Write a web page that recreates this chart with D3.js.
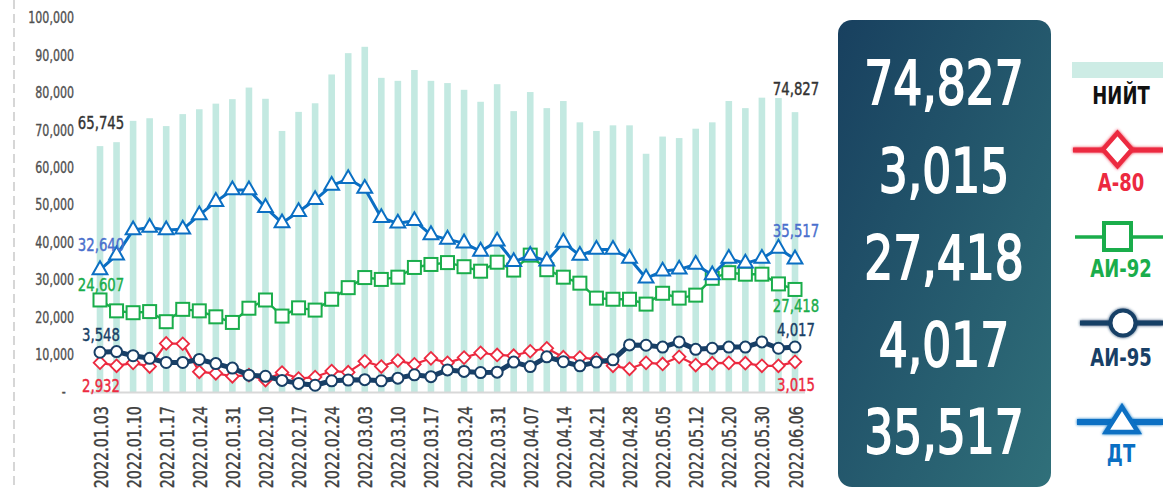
<!DOCTYPE html>
<html><head><meta charset="utf-8">
<script src="https://cdn.jsdelivr.net/npm/d3@7"></script>
<style>
html,body{margin:0;padding:0;background:#fff;}
svg{display:block;}
text{font-family:"DejaVu Sans Condensed","DejaVu Sans",sans-serif;}
</style></head>
<body>
<svg id="chart" width="1163" height="488"></svg>
<script>
// ---- data ----
const tickLabels = ["2022.01.03","2022.01.10","2022.01.17","2022.01.24","2022.01.31","2022.02.10","2022.02.17","2022.02.24","2022.03.03","2022.03.10","2022.03.17","2022.03.24","2022.03.31","2022.04.07","2022.04.14","2022.04.21","2022.04.28","2022.05.05","2022.05.12","2022.05.20","2022.05.30","2022.06.06"];
const total = [65745,66800,72500,73200,71100,74300,75600,77100,78300,81400,78400,69800,74900,77200,84900,90600,92300,84000,83200,86100,83200,82600,80800,77600,82300,75100,80200,75900,77800,72100,69800,71300,71300,63700,68300,67900,70400,72100,77800,75900,78700,78600,74827];
const a80 = [2932,2618,2917,2543,4862,4825,2020,1870,1571,1683,1197,1945,1346,1496,2094,1982,3067,2543,3142,2768,3366,2917,3441,3927,3703,3628,4077,4376,3478,3441,3291,2618,2319,2917,2805,3516,2693,2880,2917,2880,2618,2618,3015];
const ai92 = [24607,21700,21200,21500,18800,22100,21700,20100,18600,22400,24600,20300,22500,21900,24800,27900,30600,30100,30700,33300,34100,34600,33500,32300,34700,32600,36600,32700,30700,29100,25100,24800,24800,23500,26400,25100,25900,30400,31900,31500,31500,28900,27418];
const ai95 = [3548,3607,3240,3006,2639,2639,2906,2538,2138,1503,1403,1035,768,601,1002,1069,1102,1002,1236,1536,1369,1971,1837,1737,1770,2672,2271,3140,2705,2338,2672,2872,4208,4175,4008,4476,3808,3908,4008,4008,4476,3908,4017];
const dt = [32640,36600,43300,44000,43300,43500,47300,50900,54000,54000,49300,45200,48200,51400,55200,57000,54400,46600,45100,45800,42000,40800,39800,37600,40300,34800,36500,35000,40000,36500,38100,38100,35700,30400,32300,32800,34100,31300,35700,34400,35700,38400,35517];
const yTicks = [0,10000,20000,30000,40000,50000,60000,70000,80000,90000,100000];
const legendNames = ["НИЙТ","А-80","АИ-92","АИ-95","ДТ"];
const latest = [74827,3015,27418,4017,35517];

const C = {bar:"#c3e9e1", a80:"#ec2a40", ai92:"#1aad4b", ai95:"#183f66", dt:"#0b6fc3",
           dtLab:"#4a6fcd", grid:"#d8d8d8", axis:"#505050"};

const svg = d3.select("#chart");
const fmt = d3.format(",");
const idx = d3.range(total.length);
const SX = 0.82; // horizontal condensing of text

const x = d3.scalePoint().domain(idx).range([100, 795]);
const y = d3.scaleLinear().domain([0, 100000]).range([392, 18]);
const y80 = d3.scaleLinear().domain([0, 37400]).range([392, 18]);
const y95 = d3.scaleLinear().domain([0, 33400]).range([392, 18]);

// defs
const defs = svg.append("defs");
const grad = defs.append("linearGradient").attr("id","pg").attr("x1","0").attr("y1","0").attr("x2","1").attr("y2","1");
grad.append("stop").attr("offset","0%").attr("stop-color","#18405f");
grad.append("stop").attr("offset","100%").attr("stop-color","#30707a");
const glow = defs.append("filter").attr("id","glow").attr("filterUnits","userSpaceOnUse")
  .attr("x",1000).attr("y",0).attr("width",200).attr("height",488);
glow.append("feGaussianBlur").attr("in","SourceGraphic").attr("stdDeviation","1.8").attr("result","b");
const m = glow.append("feMerge"); m.append("feMergeNode").attr("in","b"); m.append("feMergeNode").attr("in","SourceGraphic");

// left dashed line
svg.append("line").attr("x1",14).attr("x2",14).attr("y1",0).attr("y2",488)
  .attr("stroke","#c9c9c9").attr("stroke-width",1.5).attr("stroke-dasharray","9,5");

// y axis
const yAxis = svg.append("g").attr("transform","translate(74,0)")
  .call(d3.axisLeft(y).tickValues(yTicks).tickSize(0).tickPadding(0).tickFormat(d => d === 0 ? "-" : fmt(d)));
yAxis.select(".domain").remove();
yAxis.selectAll("text").attr("fill",C.axis).attr("stroke",C.axis).attr("stroke-width",0.35)
  .style("font-size","15px").attr("x",0).attr("transform",`scale(${SX},1)`);
yAxis.selectAll(".tick").filter(d => d === 0).select("text").attr("x",-10);

// bars
svg.append("g").selectAll("rect").data(total).join("rect")
  .attr("x",(d,i)=>x(i)-3.3).attr("width",6.6)
  .attr("y",d=>y(d)).attr("height",d=>y(0)-y(d)).attr("fill",C.bar);

// baseline
svg.append("line").attr("x1",90).attr("x2",805).attr("y1",y(0)+0.5).attr("y2",y(0)+0.5)
  .attr("stroke",C.grid).attr("stroke-width",2);

// x axis labels
const xAxis = svg.append("g").attr("transform","translate(0,406)")
  .call(d3.axisBottom(x).tickValues(idx.filter(i=>i%2===0)).tickSize(0).tickFormat(i=>tickLabels[i/2]));
xAxis.select(".domain").remove();
xAxis.selectAll("text").attr("transform",`rotate(-90) scale(${SX},1)`).attr("text-anchor","end")
  .attr("x",0).attr("y",0).attr("dy","0.36em").attr("fill","#3f3f3f")
  .attr("stroke","#3f3f3f").attr("stroke-width",0.4).style("font-size","19.5px");

// series
function drawLine(data, ys, color, width){
  svg.append("path").datum(data)
    .attr("d", d3.line().x((d,i)=>x(i)).y(d=>ys(d)))
    .attr("fill","none").attr("stroke",color).attr("stroke-width",width).attr("stroke-linejoin","round");
}
const symDiamond = d3.symbol().type(d3.symbolSquare).size(80)();
drawLine(a80, y80, C.a80, 2.2);
svg.append("g").selectAll("path").data(a80).join("path")
  .attr("d", symDiamond).attr("transform",(d,i)=>`translate(${x(i)},${y80(d)}) rotate(45)`)
  .attr("fill","#fff").attr("stroke",C.a80).attr("stroke-width",1.8);

drawLine(ai95, y95, C.ai95, 5);
svg.append("g").selectAll("circle").data(ai95).join("circle")
  .attr("cx",(d,i)=>x(i)).attr("cy",d=>y95(d)).attr("r",5.5)
  .attr("fill","#fff").attr("stroke",C.ai95).attr("stroke-width",2);

drawLine(ai92, y, C.ai92, 2.4);
svg.append("g").selectAll("rect").data(ai92).join("rect")
  .attr("x",(d,i)=>x(i)-6.5).attr("y",d=>y(d)-6.5).attr("width",13).attr("height",13)
  .attr("fill","#fff").attr("stroke",C.ai92).attr("stroke-width",2);

drawLine(dt, y, C.dt, 3);
const tri = d3.symbol().type(d3.symbolTriangle).size(95)();
svg.append("g").selectAll("path").data(dt).join("path")
  .attr("d", tri).attr("transform",(d,i)=>`translate(${x(i)},${y(d)})`)
  .attr("fill","#fff").attr("stroke",C.dt).attr("stroke-width",2);

// data labels (first & last)
const last = total.length - 1;
const labels = [
  {i:0, v:total[0], yy:y(total[0])-23, c:"#333"},
  {i:last, v:total[last], yy:y(total[last])-23, c:"#333"},
  {i:0, v:dt[0], yy:y(dt[0])-25, c:C.dtLab},
  {i:last, v:dt[last], yy:y(dt[last])-28, c:C.dtLab},
  {i:0, v:ai92[0], yy:y(ai92[0])-15, c:C.ai92},
  {i:last, v:ai92[last], yy:y(ai92[last])+16, c:C.ai92},
  {i:0, v:ai95[0], yy:y95(ai95[0])-18, c:C.ai95},
  {i:last, v:ai95[last], yy:y95(ai95[last])-17, c:C.ai95},
  {i:0, v:a80[0], yy:y80(a80[0])+23, c:C.a80},
  {i:last, v:a80[last], yy:y80(a80[last])+23, c:C.a80}
];
svg.append("g").selectAll("text").data(labels).join("text")
  .attr("transform",d=>`translate(${x(d.i)+1},${d.yy}) scale(${SX},1)`)
  .attr("dy","0.35em").attr("text-anchor","middle")
  .attr("fill",d=>d.c).attr("stroke",d=>d.c).attr("stroke-width",0.4)
  .style("font-size","18px").text(d=>fmt(d.v));

// panel
svg.append("rect").attr("x",838).attr("y",20).attr("width",213).attr("height",467).attr("rx",14)
  .attr("fill","url(#pg)");
const rowY = [82,170,257,344,431];
svg.append("g").selectAll("text").data(latest).join("text")
  .attr("transform",(d,i)=>`translate(944,${rowY[i]}) scale(0.83,1)`)
  .attr("dy","0.36em").attr("text-anchor","middle")
  .attr("fill","#fff").attr("stroke","#fff").attr("stroke-width",1.8)
  .style("font-size","61px").text(d=>fmt(d));

// legend
const lg = svg.append("g");
lg.append("rect").attr("x",1072).attr("y",62).attr("width",91).attr("height",16).attr("fill","#cdece5");
// A-80
lg.append("line").attr("x1",1073).attr("x2",1163).attr("y1",150).attr("y2",150).attr("stroke",C.a80).attr("stroke-width",5).attr("filter","url(#glow)");
lg.append("path").attr("d","M1117.5,133 L1132,149.5 L1117.5,166 L1103,149.5 Z")
  .attr("fill","#fff").attr("stroke",C.a80).attr("stroke-width",4.5).attr("filter","url(#glow)");
// AI-92
lg.append("line").attr("x1",1075).attr("x2",1163).attr("y1",237).attr("y2",237).attr("stroke",C.ai92).attr("stroke-width",3.5);
lg.append("rect").attr("x",1104).attr("y",223).attr("width",27).attr("height",27)
  .attr("fill","#fff").attr("stroke",C.ai92).attr("stroke-width",4);
// AI-95
lg.append("line").attr("x1",1080).attr("x2",1163).attr("y1",323).attr("y2",323).attr("stroke",C.ai95).attr("stroke-width",5).attr("filter","url(#glow)");
lg.append("circle").attr("cx",1123).attr("cy",323).attr("r",12.5)
  .attr("fill","#fff").attr("stroke",C.ai95).attr("stroke-width",4).attr("filter","url(#glow)");
// DT
lg.append("line").attr("x1",1077).attr("x2",1163).attr("y1",422).attr("y2",422).attr("stroke",C.dt).attr("stroke-width",6).attr("filter","url(#glow)");
lg.append("path").attr("d","M1122,407 L1138,432 L1106,432 Z")
  .attr("fill","#fff").attr("stroke",C.dt).attr("stroke-width",4.5).attr("stroke-linejoin","miter").attr("filter","url(#glow)");

const legY = [95,182,268,357,453];
const legC = ["#111",C.a80,C.ai92,C.ai95,C.dt];
lg.selectAll("text").data(legendNames).join("text")
  .attr("transform",(d,i)=>`translate(1121,${legY[i]}) scale(0.8,1)`)
  .attr("dy","0.36em").attr("text-anchor","middle")
  .attr("fill",(d,i)=>legC[i]).style("font-size","25px").style("font-weight","bold").text(d=>d);
</script>
</body></html>
